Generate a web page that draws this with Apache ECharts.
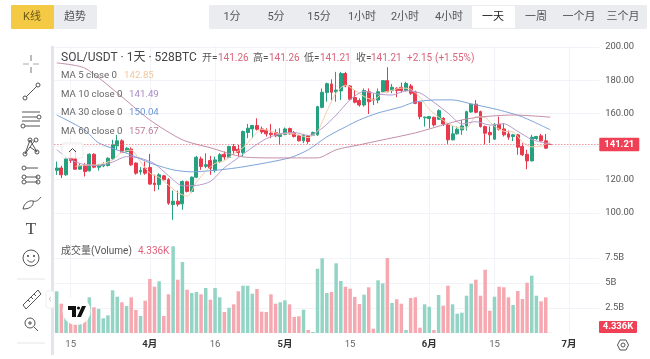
<!DOCTYPE html>
<html><head><meta charset="utf-8">
<style>html,body{margin:0;padding:0;background:#fff}#c{width:650px;height:359px;filter:blur(0.4px)}</style>
<script src="https://cdn.jsdelivr.net/npm/echarts@6/dist/echarts.min.js"></script>
</head><body><div id="c"></div>
<script>
const opens=[125.6,127,122.9,133,132.5,126.3,128.3,125.3,135.3,127.5,
128.3,128.5,132.5,140.4,143.4,137,138.4,130,124.7,126.9,
127.3,117.9,117,122.3,120,105,107,105.4,118.7,112.9,
121.5,132.5,128,131.5,125.5,131,135.3,133.5,140,138.3,
136.3,148.4,150.6,152.6,150.6,149.8,148,148.4,146,147.2,
150.8,148.4,146.4,143.4,146.4,146.8,147,163.6,172.5,177.7,
173,173.5,184,176.5,169.5,167.7,165,173,168.5,168,
173,179.7,173.7,175.1,175.7,173.7,176.5,172.7,166.7,157.3,
156.8,157.6,156.4,157,153,144,147.6,150,152.4,160.8,
165.5,161,152,148.4,144.4,153.4,150.6,147.6,146,147,
140,135.3,131.3,144.8,146.4,143.4,141.26];
const closes=[127,122.9,132.5,131.5,126.3,128.3,124.9,135.3,127.5,128.9,
129.3,132.9,141,143.4,136.5,139,128.9,123.9,125.5,123.9,
117.3,117,122.9,119.9,105.8,107,105.2,118.9,112.9,121.5,
133.5,127.9,129,126.9,131.9,135,133.7,140,137.5,136.3,
149,151,152.6,150.4,148.8,147.6,147.2,146.4,147.6,150.6,
147.6,146,143.4,146.6,143,148.4,164,172.7,177.9,172.7,
174,184,176.5,168.5,166.7,165,173.7,167,168,173,
179.7,173,175.7,173.7,173.7,178,172.1,166,158,157.7,
158,153,161.6,153.6,144,147.6,150.4,152.4,161,165.5,
160.6,152,148,147,153.4,150.4,147,145.6,147,139.6,
135,131.3,145.6,146,143.4,139,141.21];
const highs=[130.9,128.3,133.9,137,138,129.9,129.9,135.9,135.9,129.5,
130.5,133.5,144,147,144.4,139.5,139.5,130.3,127.5,130.9,
135.5,123,123.9,122.9,120.9,113.4,113.4,119.5,119.3,121.9,
134.3,133.9,135.9,134.3,133.9,136,137,140.4,141.5,141,
149.6,153.6,153,157,152,151,153.6,150.4,151,151.4,
151.4,149.4,147,147.6,147,149,164.5,175,178.5,180.5,
185,185,185,177,174,169,175,175,172,175,
180.1,187.8,177.7,175.7,178.5,179,177.7,173.7,167,158,
158.2,158,162.4,157.6,154,152.4,152,156,161.6,166,
168,161.6,152.6,152,154,158,154,149.6,147.6,147.6,
142,138,147,146.4,147.6,147.6,141.26];
const lows=[122.9,120.9,122.3,130,125.9,125.9,121.9,124.9,126.9,125.5,
127.5,127.9,132,138,136,136.4,128.3,123,123,122.9,
116.9,113,113.9,119.5,104.8,95.8,103.8,101.8,112.3,112.3,
120.9,125.9,126.9,122.9,124.3,130,132,133,135,134,
134,145,145,149.6,147.6,146,145,145.6,141,146.8,
147.2,145.4,143,142,141.6,146.4,146.4,163,167,168,
167,168,175.7,167.7,166,164,164,159.6,165,166,
172.7,172.7,172.1,169.7,172.5,173.1,171.1,165.5,156.4,152,
151,152,156,152.4,141.6,143.6,147.2,147,149.6,160.4,
160,151.4,141.2,142,144,149.6,146,144,143.2,135,
134.3,126.3,131,144,143,138.4,141.21];
// billions
const volumes=[4.17,2.93,1.57,1.2,1.2,1.2,1.7,3.57,2.57,2.4,
1.47,1.77,4.27,3.63,3.07,2.7,3.57,2.3,1.7,3.23,
5.4,4.63,5.17,1.7,3.87,8.67,5.33,7.1,4.33,4.0,
4.1,3.87,4.5,3.33,4.5,3.57,2.1,2.53,2.87,4.17,
4.73,4.73,3.93,4.4,2.13,2.1,3.87,2.93,3.07,3.27,
2.87,1.6,1.67,2.33,0.3,0.1,6.43,7.47,4.0,4.1,
6.97,5.2,4.63,4.43,3.6,2.9,3.83,4.57,0.43,5.27,
4.97,7.5,3.0,3.37,2.93,0.3,3.5,3.57,0.53,2.87,
2.63,0.3,3.8,2.73,4.73,2.87,1.93,2.03,3.73,4.93,
5.33,3.73,6.33,2.23,3.63,4.63,4.57,3.57,2.8,4.2,
3.4,5.03,5.73,3.73,3.17,3.57,0.02];
const ma5=[[4,128],[6,128.7],[9,129],[12,131.9],[14,136.6],[16,137.8],[18,130.8],[20,123.9],[22,121.3],[24,116.6],[26,112.2],[28,110],[30,118.4],[32,125],[34,129.8],[36,131.3],[38,135.6],[40,139.3],[42,145.3],[44,150.4],[46,149.3],[48,147.5],[50,147.9],[52,147],[54,145.3],[56,149.1],[58,161.2],[60,172.3],[62,177],[64,173.9],[66,170.1],[68,168.1],[70,172.3],[72,173.9],[74,175.2],[76,174.6],[78,169.6],[80,162.4],[82,157.7],[84,154],[86,151.4],[88,151.1],[90,158],[92,157.4],[94,152.2],[96,149.2],[98,148.7],[100,142.8],[102,139.7],[104,140.3],[106,142.85]];
const ma10=[[0,138],[3,132],[6,129],[9,128.5],[12,130.6],[15,133.9],[18,132.9],[21,129.6],[24,122.4],[27,116.3],[30,116.5],[33,118.9],[36,127.1],[39,133.2],[42,139.4],[45,144.7],[48,147.7],[51,148.5],[54,146.6],[57,151],[60,158.9],[63,168.2],[66,173.2],[69,171.6],[72,171],[75,173.6],[78,172.3],[81,166.6],[84,160.2],[87,153.6],[90,155],[93,152.9],[96,153.7],[99,149.1],[102,144.2],[105,142],[106,141.49]];
const ma30=[[0,159],[5.6,150],[9.3,142.2],[16.4,134.9],[20,130.1],[25,125.9],[28.6,124.7],[35,125.9],[40,127.7],[49.5,133.1],[54.4,138],[58,145.8],[61.5,151.8],[65,156],[69.4,160.2],[73.7,163.9],[77.4,166.9],[81.7,168.1],[85,168.1],[89.4,165.7],[94.5,162],[99.5,157.8],[106,150.04]];
const ma60=[[0,190.4],[5.6,187.3],[13,172.3],[20,156],[27,144],[33,139.2],[40,133.7],[47,133.1],[56,133.1],[60,138],[64.5,141],[69.4,143.4],[76.5,148.2],[83,153],[87,156],[91,157.8],[98,159],[106,157.67]];
const priceTicks=[100,120,140,160,180,200];
const volumeTicks=[2.5,5,7.5];
const tickIndex=[3,20,34,49,63,80,94,110];
const tickLabels=['15','4月','16','5月','15','6月','15','7月'];
const categories=Array.from({length:117},(_,i)=>'d'+i);
const legendRows=[['MA 5 close 0','142.85','#f2c79c'],['MA 10 close 0','141.49','#a98ac6'],['MA 30 close 0','150.04','#6f98d8'],['MA 60 close 0','157.67','#bd7f9e']];
const periods=['1分','5分','15分','1小时','2小时','4小时','一天','一周','一个月','三个月'];
const periodX=[232,276,319,362,405,449,493,536,579,623];
const lastPrice=141.21;

const UP='#26a17f',DOWN='#e8394d',UPV='#93d4c5',DOWNV='#f6a8b0';
const FONT='Roboto,"Noto Sans CJK SC",sans-serif';
const candle=opens.map((o,i)=>[o,closes[i],lows[i],highs[i]]);
const vols=volumes.map((v,i)=>({value:v,itemStyle:{color:closes[i]>=opens[i]?UPV:DOWNV}}));
const isTick=i=>tickIndex.includes(i);
const line=(d,color)=>({type:'line',xAxisIndex:0,yAxisIndex:0,data:d,showSymbol:false,smooth:0.25,silent:true,lineStyle:{color,width:1},z:3});

const stroke={stroke:'#555',fill:null,lineWidth:1};
const L=(x1,y1,x2,y2,s)=>({type:'line',shape:{x1,y1,x2,y2},style:Object.assign({},stroke,s||{}),z:50});
const C=(cx,cy,r,s)=>({type:'circle',shape:{cx,cy,r},style:Object.assign({},stroke,s||{}),z:50});
const T=(x,y,text,s)=>({type:'text',x,y,style:Object.assign({text,font:'11px '+FONT,fill:'#555',align:'center',verticalAlign:'middle'},s||{}),z:60});
const R=(x,y,width,height,fill,extra)=>({type:'rect',shape:{x,y,width,height,r:(extra&&extra.r)||0},style:Object.assign({fill},extra&&extra.style||{}),z:(extra&&extra.z)||40});
const g=[];
// toolbars
g.push(R(11,5,43,24,'#f4ca45',{r:1}),R(54,5,43,24,'#eaecef',{r:1}),T(32,17,'K线',{fill:'#6b5a1a'}),T(75,17,'趋势',{fill:'#555'}));
g.push(R(209,5,438,24,'#eaecef',{r:1}),R(472,6,43,22,'#ffffff'));
periods.forEach((p,i)=>g.push(T(periodX[i],17,p,{fill:i===6?'#222':'#555'})));
// pane separators
g.push(R(51,46,3,309,'#e4e4ef',{z:10}));
// left tool icons
g.push(L(31,55,31,61,{stroke:'#777'}),L(31,67,31,73,{stroke:'#777'}),L(23,64,29,64,{stroke:'#aaa'}),L(33,64,39,64,{stroke:'#aaa'}));
g.push(L(26,97,37,86),C(25,98,2),C(38,85,2));
g.push(L(22,112,40,112),L(22,117,37,117),C(39,117,2),L(25,126,40,126),L(22,121,40,121),C(23,126,2));
g.push({type:'polyline',shape:{points:[[25,154],[30,140],[37,152],[30,147],[25,154]]},style:stroke,z:50},L(30,147,35,140),C(25,154,2),C(30,140,2),C(37,152,2),C(36,140,2));
g.push(L(26,168,38,168),C(24,168,2),L(26,177,38,177),C(24,177,2),C(38,177,2),L(26,182,38,182),C(24,182,2),C(38,182,2));
g.push({type:'bezierCurve',shape:{x1:23,y1:209,cpx1:24,cpy1:203,cpx2:29,cpy2:200,x2:33,y2:201},style:stroke,z:50},{type:'bezierCurve',shape:{x1:33,y1:201,cpx1:34,cpy1:204,cpx2:32,cpy2:209,x2:23,y2:209},style:stroke,z:50},{type:'bezierCurve',shape:{x1:33,y1:201,cpx1:35,cpy1:202,cpx2:38,cpy2:201,x2:41,y2:197},style:stroke,z:50});
g.push(T(31,230,'T',{font:'17px "Liberation Serif",serif',fill:'#444'}));
g.push(C(31,258,8),C(28,256,0.7,{fill:'#555'}),C(34,256,0.7,{fill:'#555'}),{type:'arc',shape:{cx:31,cy:258,r:4,startAngle:0.4,endAngle:2.7},style:stroke,z:50});
g.push(L(17,279,45,279,{stroke:'#e6e6ea'}),L(17,343,45,343,{stroke:'#e6e6ea'}));
g.push({type:'polygon',shape:{points:[[23,305],[38,290],[41,294],[26,309]]},style:stroke,z:50},L(28,300,30,302),L(31,297,33,299),L(34,294,36,296));
g.push(C(30,323,5),L(28,323,32,323),L(30,321,30,325),L(34,327,38,331));
g.push(R(46,291,8,17,'#ffffff',{r:2,z:45,style:{stroke:'#eee'}}),T(50,299,'‹',{fill:'#bbb',font:'10px '+FONT}));
// collapse button
g.push(R(62,143,21,15,'#ffffff',{r:2,z:45,style:{stroke:'#e6e6e6',opacity:.8}}),{type:'polyline',shape:{points:[[69,152],[72.5,148.5],[76,152]]},style:{stroke:'#444',fill:null,lineWidth:1},z:50});
// logo
g.push(C(76.5,311,14,{fill:'#fff',stroke:null,opacity:.95}));
g.push({type:'polygon',shape:{points:[[68,306],[76,306],[76,317],[72,317],[72,310],[68,310]]},style:{fill:'#111'},z:52},Object.assign(C(78.5,308,1.6,{fill:'#111',stroke:null}),{z:52}),{type:'polygon',shape:{points:[[82,306],[86,306],[81,317],[77,317]]},style:{fill:'#111'},z:52});
// settings hex
g.push({type:'polygon',shape:{points:[[617.5,345],[620,340],[626,340],[628.5,345],[626,350],[620,350]]},style:stroke,z:50},C(623,345,2));
// header
g.push(T(61,58,'SOL/USDT · 1天 · 528BTC',{align:'left',font:'12px '+FONT,fill:'#444'}));
const hdr=[[202,'开=','#555'],[218,'141.26','#d9637a'],[253,'高=','#555'],[269,'141.26','#d9637a'],[304,'低=','#555'],[320,'141.21','#d9637a'],[356,'收=','#555'],[371,'141.21','#d9637a'],[407,'+2.15','#d9637a'],[435,'(+1.55%)','#d9637a']];
hdr.forEach(h=>g.push(T(h[0],58.5,h[1],{align:'left',font:'10px '+FONT,fill:h[2]})));
legendRows.forEach((r,i)=>{const y=[76,95,113,132][i];const vx=[124,129,129,129][i];
  g.push(T(61,y,r[0],{align:'left',font:'9.7px '+FONT,fill:'#666'}),T(vx,y,r[1],{align:'left',font:'9.7px '+FONT,fill:r[2]}));});
// volume pane
g.push(T(61,251,'成交量(Volume)',{align:'left',font:'10px '+FONT,fill:'#555'}),T(138,251,'4.336K',{align:'left',font:'10px '+FONT,fill:'#e0617a'}));
g.push(R(599,321,38,12,'#ef4056',{r:1,z:45}),T(618,327,'4.336K',{font:'bold 9.5px '+FONT,fill:'#fff'}));

const option={animation:false,backgroundColor:'#fff',
grid:[{left:54.37,width:544.9,top:46,height:190},{left:54.37,width:544.9,top:236,height:97}],
xAxis:[
{type:'category',gridIndex:0,data:categories,axisLine:{show:false},axisTick:{show:false},axisLabel:{show:false},axisPointer:{show:false},
 splitLine:{show:true,interval:(i)=>isTick(i),alignWithLabel:true,lineStyle:{color:'#f1f3f8',width:1}}},
{type:'category',gridIndex:1,data:categories,axisLine:{show:false},axisTick:{show:false,alignWithLabel:true,interval:(i)=>isTick(i)},
 splitLine:{show:true,interval:(i)=>isTick(i),alignWithLabel:true,lineStyle:{color:'#f1f3f8',width:1}},
 axisLabel:{interval:(i)=>isTick(i),margin:7,fontSize:9.5,fontFamily:FONT,color:'#666',
  formatter:(v,i)=>{const s=tickLabels[tickIndex.indexOf(i)]||'';return s.includes('月')?'{m|'+s+'}':s;},
  rich:{m:{fontSize:9.5,fontFamily:FONT,color:'#333',fontWeight:'bold'}}}}
],
yAxis:[
{type:'value',gridIndex:0,position:'right',min:86,max:200.6,scale:true,axisLine:{show:false},
 axisTick:{show:false,customValues:priceTicks},
 axisLabel:{customValues:priceTicks,margin:6,fontSize:9.4,padding:[4,0,0,0],fontFamily:FONT,color:'#555',formatter:v=>v.toFixed(2)},
 splitLine:{show:true,lineStyle:{color:'#f1f3f8',width:1}}},
{type:'value',gridIndex:1,position:'right',min:0,max:9.7,axisLine:{show:false},
 axisTick:{show:false,customValues:volumeTicks},
 axisLabel:{customValues:volumeTicks,margin:6,fontSize:9.4,padding:[4,0,0,0],fontFamily:FONT,color:'#555',formatter:v=>v+'B'},
 splitLine:{show:true,lineStyle:{color:'#f1f3f8',width:1}}}
],
series:[
{type:'candlestick',xAxisIndex:0,yAxisIndex:0,data:candle,barWidth:3.4,silent:true,z:2,
 itemStyle:{color:UP,color0:DOWN,borderColor:UP,borderColor0:DOWN,borderWidth:1},
 markLine:{silent:true,symbol:'none',animation:false,data:[{yAxis:lastPrice}],
  lineStyle:{color:'#e8606f',type:[1,2],width:1},
  label:{position:'end',distance:0,formatter:lastPrice.toFixed(2),backgroundColor:'#ef4056',color:'#fff',fontWeight:'bold',fontSize:9.5,fontFamily:FONT,padding:[2,5,2,5],borderRadius:1}}},
line(ma5,'#f4cfa8'),line(ma10,'#b79ccd'),line(ma30,'#7da3da'),line(ma60,'#c48ea9'),
{type:'bar',xAxisIndex:1,yAxisIndex:1,data:vols,barWidth:3.5,silent:true}
],
graphic:{elements:g}};
const chart=echarts.init(document.getElementById('c'),null,{renderer:'canvas'});
chart.setOption(option);
</script></body></html>
